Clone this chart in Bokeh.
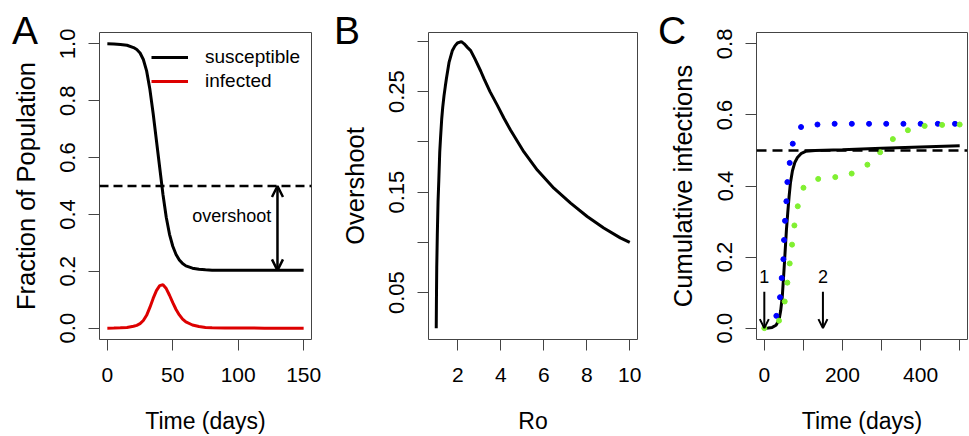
from bokeh.plotting import figure
from bokeh.layouts import row, column
from bokeh.models import (Range1d, FixedTicker, PrintfTickFormatter, Span, Arrow,
                          OpenHead, Label, Legend, LegendItem, Div)
from bokeh.embed import file_html
from bokeh.resources import INLINE

FONT = "Liberation Sans"

# ---------------- Panel A: SIR epidemic ----------------
time_a = [0, 5, 10, 15, 20, 22.5, 25, 27.5, 30, 32.5, 35, 37.5, 40, 42.5, 45, 47.5,
          50, 52.5, 55, 57.5, 60, 65, 70, 75, 80, 90, 100, 110, 120, 130, 140, 150]
susceptible = [1.0, 0.9995, 0.998, 0.995, 0.987, 0.98, 0.968, 0.945, 0.905, 0.84, 0.755,
               0.66, 0.565, 0.47, 0.39, 0.33, 0.288, 0.259, 0.24, 0.227, 0.219, 0.211,
               0.207, 0.205, 0.204, 0.2035, 0.2033, 0.2032, 0.2032, 0.2032, 0.2032, 0.2032]
infected = [0.0, 0.0003, 0.001, 0.0025, 0.0065, 0.0099, 0.0157, 0.0267, 0.0451, 0.0728,
            0.1045, 0.1322, 0.1495, 0.1525, 0.1392, 0.1157, 0.0896, 0.0656, 0.0465, 0.0316,
            0.0217, 0.011, 0.0055, 0.0026, 0.0012, 0.0005, 0.0002, 0.0001, 0.0, 0.0, 0.0, 0.0]
herd_threshold = 0.5
final_susceptible = 0.2032
overshoot_arrow_day = 130
overshoot_text_pos = (95, 0.395)
a_xticks = [0, 50, 100, 150]
a_yticks = [0.0, 0.2, 0.4, 0.6, 0.8, 1.0]

# ---------------- Panel B: overshoot vs Ro ----------------
ro_values = [1.0, 1.01, 1.023, 1.05, 1.084, 1.12, 1.163, 1.2, 1.255, 1.3, 1.362, 1.42,
             1.474, 1.595, 1.752, 1.87, 1.985, 2.17, 2.3, 2.449, 2.602, 2.8, 3.067, 3.22,
             3.5, 3.843, 4.15, 4.46, 5.078, 5.7, 6.47, 7.25, 8.02, 8.79, 9.56, 10.0]
overshoot_values = [0.0147, 0.045, 0.0747, 0.108, 0.1406, 0.162, 0.19, 0.204, 0.223, 0.234,
                    0.246, 0.255, 0.263, 0.279, 0.291, 0.2955, 0.2984, 0.2997, 0.2975, 0.294,
                    0.2908, 0.2825, 0.2705, 0.263, 0.25, 0.2363, 0.2235, 0.2116, 0.19, 0.172,
                    0.1539, 0.139, 0.1258, 0.1143, 0.1045, 0.1]
b_xticks = [2, 4, 6, 8, 10]
b_yticks_labeled = [0.05, 0.15, 0.25]
b_yticks_unlabeled = [0.10, 0.20, 0.30]

# ---------------- Panel C: cumulative infections ----------------
time_c = [0, 10, 20, 30, 37.6, 42, 46, 50.4, 53.5, 56.5, 60, 63.3, 67, 72, 78, 84.8, 95,
          106, 130, 200, 300, 400, 500]
cumulative = [0.0, 0.0005, 0.002, 0.008, 0.023, 0.05, 0.089, 0.163, 0.22, 0.275, 0.325,
              0.369, 0.41, 0.443, 0.466, 0.48, 0.492, 0.4975, 0.5, 0.502, 0.506, 0.51, 0.513]
blue_t = [30.8, 40.2, 44.5, 48.8, 50.5, 53.0, 56.5, 59.0, 65.0, 72.8, 94.0, 136, 180, 224,
          268, 312, 356, 400, 444, 488]
blue_v = [0.0345, 0.087, 0.141, 0.194, 0.248, 0.302, 0.357, 0.411, 0.465, 0.519, 0.566,
          0.573, 0.575, 0.575, 0.575, 0.575, 0.575, 0.575, 0.575, 0.575]
green_t = [0, 37.6, 52.2, 59.0, 65.0, 71.0, 77.0, 85.6, 100.2, 137.9, 181.6, 223.6, 263.8,
           296.4, 329, 367.5, 410.4, 455, 500]
green_v = [0.0, 0.021, 0.075, 0.128, 0.182, 0.235, 0.289, 0.343, 0.395, 0.42, 0.425, 0.435,
           0.46, 0.495, 0.532, 0.557, 0.569, 0.572, 0.573]
intervention_days = [0, 150]
intervention_labels = ["1", "2"]
intervention_arrow_top = 0.1025
intervention_label_y = 0.1445
c_xticks_labeled = [0, 200, 400]
c_xticks_unlabeled = [100, 300, 500]
c_yticks = [0.0, 0.2, 0.4, 0.6, 0.8]

panel_letters = ["A", "B", "C"]

TICK_COL = "#444444"


def make_fig(width, xr, yr, left, right):
    p = figure(width=width, height=436, x_range=Range1d(*xr), y_range=Range1d(*yr),
               output_backend="svg", toolbar_location=None, tools="",
               min_border_left=left, min_border_right=right, min_border_top=32,
               min_border_bottom=96)
    p.outline_line_color = TICK_COL
    p.outline_line_width = 1
    p.xgrid.visible = False
    p.ygrid.visible = False
    p.background_fill_color = "white"
    p.border_fill_color = "white"
    return p


def style_axes(p, xlabel, ylabel):
    for ax in (p.xaxis[0], p.yaxis[0]):
        ax.axis_line_color = None
        ax.major_tick_out = 11
        ax.major_tick_in = 0
        ax.minor_tick_out = 11
        ax.minor_tick_in = 0
        ax.major_tick_line_color = TICK_COL
        ax.minor_tick_line_color = TICK_COL
        ax.major_label_text_font = FONT
        ax.major_label_text_color = "black"
        ax.axis_label_text_font = FONT
        ax.axis_label_text_font_style = "normal"
        ax.axis_label_text_color = "black"
    xa = p.xaxis[0]
    xa.axis_label = xlabel
    xa.major_label_text_font_size = "21px"
    xa.axis_label_text_font_size = "23px"
    xa.major_label_standoff = 17
    xa.axis_label_standoff = 23
    ya = p.yaxis[0]
    ya.axis_label = ylabel
    ya.major_label_text_font_size = "22px"
    ya.axis_label_text_font_size = "25.5px"
    ya.major_label_standoff = 13
    ya.axis_label_standoff = 18
    ya.major_label_orientation = "vertical"


# ---------- A ----------
pa = make_fig(330, (-6, 156), (-0.04, 1.04), 99, 19)
pa.xaxis[0].ticker = FixedTicker(ticks=a_xticks)
pa.yaxis[0].ticker = FixedTicker(ticks=a_yticks)
pa.yaxis[0].formatter = PrintfTickFormatter(format="%.1f")
style_axes(pa, "Time (days)", "Fraction of Population")
rs = pa.line(time_a, susceptible, line_color="black", line_width=3)
ri = pa.line(time_a, infected, line_color="#DD0000", line_width=3)
pa.add_layout(Span(location=herd_threshold, dimension="width", line_color="black",
                   line_width=2.5, line_dash="9 5"))
pa.add_layout(Arrow(start=OpenHead(size=11, line_width=2.5, line_color="black"),
                    end=OpenHead(size=11, line_width=2.5, line_color="black"),
                    x_start=overshoot_arrow_day, y_start=final_susceptible,
                    x_end=overshoot_arrow_day, y_end=herd_threshold,
                    line_width=2.5, line_color="black"))
pa.add_layout(Label(x=overshoot_text_pos[0], y=overshoot_text_pos[1], text="overshoot",
                    text_font=FONT, text_font_size="18px", text_align="center",
                    text_baseline="middle", text_color="black"))
leg = Legend(items=[LegendItem(label="susceptible", renderers=[rs]),
                    LegendItem(label="infected", renderers=[ri])],
             location=(52, 246), glyph_width=37, glyph_height=24, label_height=24,
             label_standoff=17, spacing=0, padding=0, margin=0,
             border_line_color=None, background_fill_alpha=0,
             label_text_font=FONT, label_text_font_size="19px", label_text_color="black")
pa.add_layout(leg)

# ---------- B ----------
pb = make_fig(318, (0.64, 10.36), (0.0034, 0.3088), 98, 11)
pb.xaxis[0].ticker = FixedTicker(ticks=b_xticks)
pb.yaxis[0].ticker = FixedTicker(ticks=b_yticks_labeled, minor_ticks=b_yticks_unlabeled)
pb.yaxis[0].formatter = PrintfTickFormatter(format="%.2f")
style_axes(pb, "Ro", "Overshoot")
pb.line(ro_values, overshoot_values, line_color="black", line_width=3)

# ---------- C ----------
pc = make_fig(321, (-20, 520), (-0.032, 0.832), 108, 2)
pc.xaxis[0].ticker = FixedTicker(ticks=c_xticks_labeled, minor_ticks=c_xticks_unlabeled)
pc.yaxis[0].ticker = FixedTicker(ticks=c_yticks)
pc.yaxis[0].formatter = PrintfTickFormatter(format="%.1f")
style_axes(pc, "Time (days)", "Cumulative infections")
pc.add_layout(Span(location=herd_threshold, dimension="width", line_color="black",
                   line_width=2.5, line_dash="10 6"))
pc.line(time_c, cumulative, line_color="black", line_width=3)
pc.scatter(blue_t, blue_v, size=5, color="#0000FF")
pc.scatter(green_t, green_v, size=5, color="#80F030")
for d, lab in zip(intervention_days, intervention_labels):
    pc.add_layout(Arrow(end=OpenHead(size=9, line_width=2, line_color="black"), start=None,
                        x_start=d, y_start=intervention_arrow_top, x_end=d, y_end=0,
                        line_width=2, line_color="black"))
    pc.add_layout(Label(x=d, y=intervention_label_y, text=lab, text_font=FONT,
                        text_font_size="18px", text_align="center", text_baseline="middle",
                        text_color="black"))

# ---------- panel letters (HTML overlay) ----------
letter_left = [7, 329, 653]
spans = "".join(
    f'<span style="position:absolute;left:{x}px;top:6px;">{t}</span>'
    for t, x in zip(panel_letters, letter_left))
letters = Div(text=spans, width=969, height=0,
              styles={"position": "absolute", "left": "0px", "top": "0px",
                      "z-index": "10", "font-family": FONT, "font-size": "39px",
                      "line-height": "1", "color": "black", "overflow": "visible",
                      "pointer-events": "none"})

layout = column(row(pa, pb, pc), letters)
open("out.html", "w").write(file_html(layout, INLINE))
